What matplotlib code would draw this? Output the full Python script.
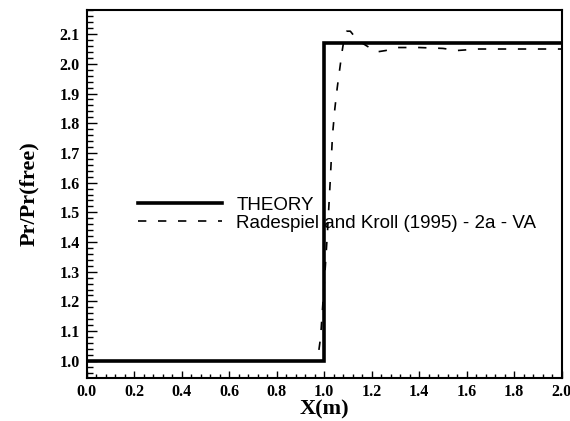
import matplotlib
matplotlib.use('Agg')
import matplotlib.pyplot as plt
from matplotlib.ticker import MultipleLocator, FormatStrFormatter

# Theory: step in pressure ratio at X = 1.0 m
theory_x = [0.0, 1.0, 1.0, 2.0]
theory_y = [1.0, 1.0, 2.07, 2.07]

# Radespiel and Kroll (1995) - 2a - VA
rk_x = [0.0, 0.96, 0.975, 0.985, 0.995, 1.005, 1.015, 1.025, 1.035, 1.045, 1.055,
        1.065, 1.075, 1.085, 1.095, 1.11, 1.14, 1.18, 1.22, 1.26, 1.30, 1.40,
        1.50, 1.56, 1.65, 1.80, 2.0]
rk_y = [1.0, 1.0, 1.02, 1.08, 1.20, 1.32, 1.45, 1.60, 1.76, 1.85, 1.92,
        1.98, 2.04, 2.09, 2.11, 2.11, 2.08, 2.06, 2.04, 2.045, 2.055, 2.055,
        2.052, 2.045, 2.05, 2.05, 2.05]

serif = 'Liberation Serif'
sans = 'Liberation Sans'

fig = plt.figure(figsize=(5.7, 4.21), dpi=100)
ax = fig.add_axes([0.152, 0.102, 0.8335, 0.874])

ax.plot(theory_x, theory_y, color='black', lw=2.6, solid_joinstyle='miter',
        label='THEORY')
ax.plot(rk_x, rk_y, color='black', lw=1.2, dashes=(5, 7),
        label='Radespiel and Kroll (1995) - 2a - VA')

ax.set_xlim(0.0, 2.0)
ax.set_ylim(0.942, 2.181)

ax.xaxis.set_major_locator(MultipleLocator(0.2))
ax.xaxis.set_minor_locator(MultipleLocator(0.04))
ax.yaxis.set_major_locator(MultipleLocator(0.1))
ax.yaxis.set_minor_locator(MultipleLocator(0.02))
ax.xaxis.set_major_formatter(FormatStrFormatter('%.1f'))
ax.yaxis.set_major_formatter(FormatStrFormatter('%.1f'))

ax.tick_params(which='both', direction='in', top=False, right=False, width=1.0)
ax.tick_params(axis='y', which='major', length=7, pad=5)
ax.tick_params(axis='y', which='minor', length=4)
ax.tick_params(axis='x', which='major', length=5, pad=4)
ax.tick_params(axis='x', which='minor', length=3)

for lab in ax.get_xticklabels() + ax.get_yticklabels():
    lab.set_fontfamily(serif)
    lab.set_fontweight('bold')
    lab.set_fontsize(11.5)

for sp in ax.spines.values():
    sp.set_linewidth(1.5)

ax.set_xlabel('X(m)', fontfamily=serif, fontweight='bold', fontsize=16)
ax.set_ylabel('Pr/Pr(free)', fontfamily=serif, fontweight='bold', fontsize=16)
ax.xaxis.set_label_coords(0.5, -0.057)
ax.yaxis.set_label_coords(-0.1, 0.5)

ax.legend(loc='center left', bbox_to_anchor=(0.092, 0.445), frameon=False,
          handlelength=4.5, handletextpad=0.75, labelspacing=0.05,
          borderaxespad=0.0, prop={'family': sans, 'size': 13.5})

fig.savefig('out.png', dpi=100)
